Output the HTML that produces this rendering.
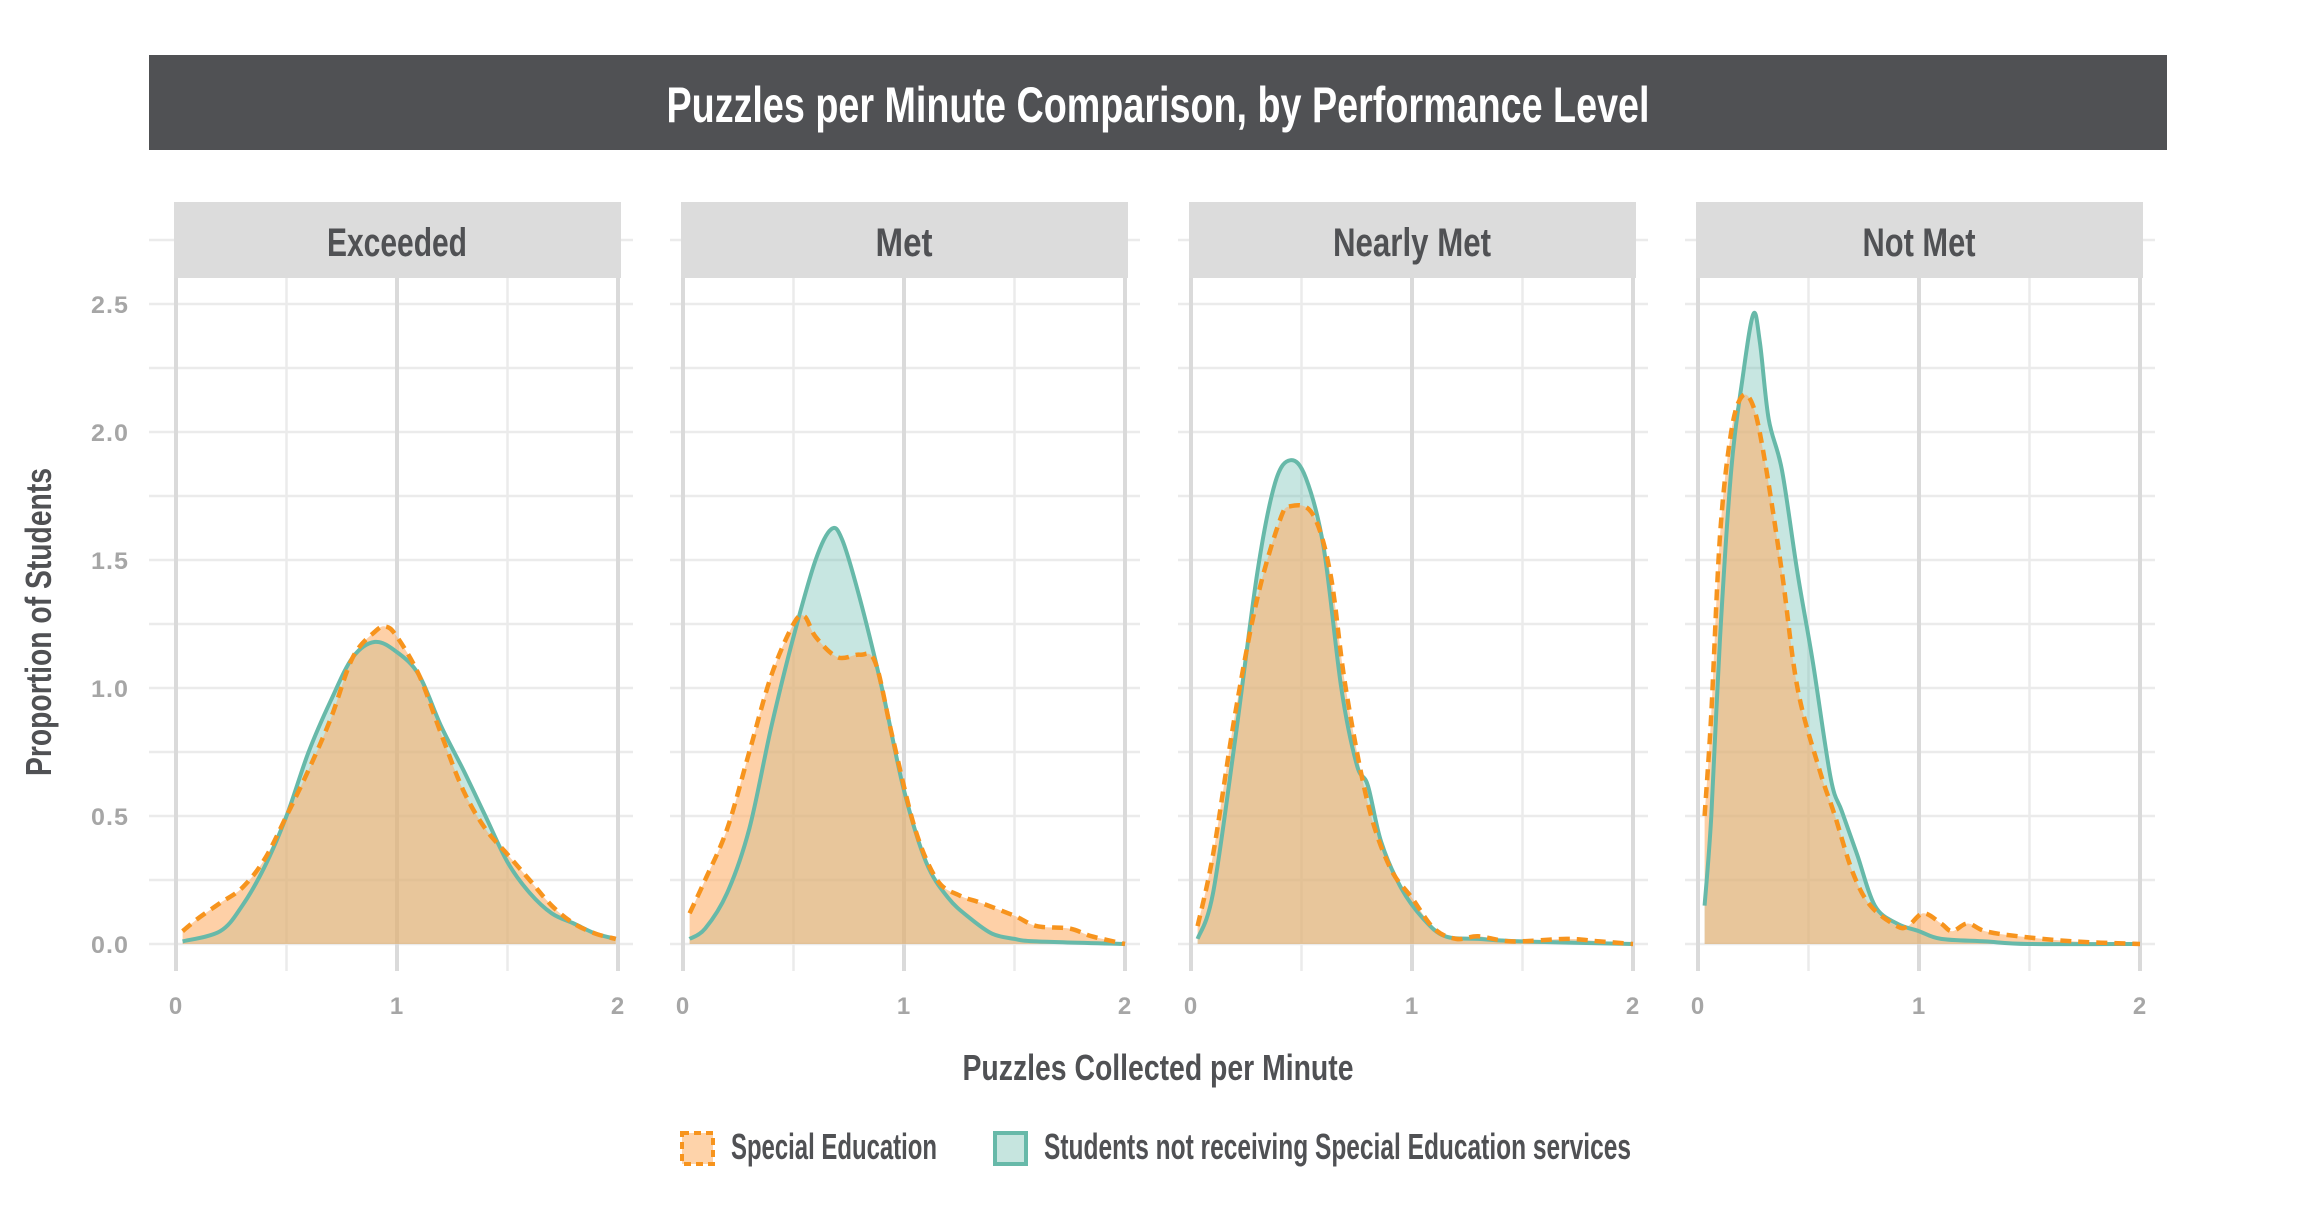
<!DOCTYPE html>
<html><head><meta charset="utf-8"><style>
html,body{margin:0;padding:0;background:#fff;}
svg{display:block;}
text{font-family:"Liberation Sans Narrow","Liberation Sans",sans-serif;font-weight:bold;}
.tk{font-family:"Liberation Sans",sans-serif;font-weight:bold;fill:#a6a6a6;font-size:24px;letter-spacing:1px;}
</style></head><body>
<svg id="s" width="2315" height="1232" viewBox="0 0 2315 1232" xmlns="http://www.w3.org/2000/svg">
<rect x="149" y="55" width="2018" height="95" fill="#505154"/>
<text x="1158" y="122" text-anchor="middle" fill="#fff" font-size="50" textLength="983" lengthAdjust="spacingAndGlyphs">Puzzles per Minute Comparison, by Performance Level</text>
<g id="panels"></g>
<text x="1158" y="1080" text-anchor="middle" fill="#505154" font-size="36" textLength="391" lengthAdjust="spacingAndGlyphs">Puzzles Collected per Minute</text>
<text transform="translate(51,622) rotate(-90)" text-anchor="middle" fill="#505154" font-size="36" textLength="308" lengthAdjust="spacingAndGlyphs">Proportion of Students</text>
<rect x="682" y="1133" width="31" height="31" fill="#fed3aa" stroke="#f7941d" stroke-width="4" stroke-dasharray="7,5"/>
<text x="731" y="1159" fill="#505154" font-size="36" textLength="206" lengthAdjust="spacingAndGlyphs">Special Education</text>
<rect x="995" y="1133" width="31" height="31" fill="#c6e5df" stroke="#67b9a9" stroke-width="4"/>
<text x="1044" y="1159" fill="#505154" font-size="36" textLength="587" lengthAdjust="spacingAndGlyphs">Students not receiving Special Education services</text>
</svg>
<script>
var P=[
{n:"Exceeded",x0:176,lw:140,
t:[[0.03,0.01],[0.2,0.05],[0.3,0.15],[0.4,0.3],[0.5,0.5],[0.6,0.75],[0.7,0.95],[0.8,1.12],[0.9,1.18],[1.0,1.14],[1.1,1.05],[1.2,0.85],[1.3,0.68],[1.4,0.5],[1.5,0.32],[1.6,0.2],[1.7,0.12],[1.8,0.08],[1.9,0.04],[1.99,0.02]],
o:[[0.03,0.05],[0.1,0.1],[0.2,0.16],[0.3,0.22],[0.4,0.33],[0.5,0.5],[0.6,0.68],[0.7,0.88],[0.8,1.12],[0.9,1.22],[0.95,1.24],[1.0,1.2],[1.1,1.05],[1.2,0.82],[1.3,0.6],[1.4,0.45],[1.5,0.35],[1.6,0.25],[1.7,0.15],[1.8,0.08],[1.9,0.04],[1.99,0.02]]},
{n:"Met",x0:683,lw:57,
t:[[0.03,0.02],[0.1,0.06],[0.2,0.2],[0.3,0.45],[0.4,0.85],[0.5,1.2],[0.6,1.5],[0.67,1.62],[0.72,1.58],[0.8,1.35],[0.9,1.0],[1.0,0.6],[1.1,0.32],[1.2,0.18],[1.3,0.1],[1.4,0.04],[1.5,0.02],[1.6,0.01],[2,0.0]],
o:[[0.03,0.12],[0.1,0.25],[0.2,0.45],[0.3,0.75],[0.4,1.05],[0.5,1.25],[0.55,1.28],[0.6,1.2],[0.7,1.12],[0.8,1.13],[0.87,1.1],[0.95,0.8],[1.05,0.45],[1.15,0.25],[1.25,0.19],[1.35,0.16],[1.5,0.11],[1.6,0.07],[1.75,0.06],[1.85,0.03],[2,0.0]]},
{n:"Nearly Met",x0:1191,lw:158,
t:[[0.03,0.02],[0.1,0.2],[0.2,0.8],[0.3,1.45],[0.38,1.8],[0.45,1.89],[0.52,1.82],[0.6,1.55],[0.68,1.0],[0.75,0.7],[0.8,0.62],[0.86,0.4],[0.95,0.22],[1.05,0.1],[1.15,0.03],[1.3,0.02],[1.5,0.01],[2,0.0]],
o:[[0.03,0.07],[0.1,0.35],[0.2,0.9],[0.3,1.35],[0.4,1.65],[0.45,1.71],[0.55,1.68],[0.63,1.45],[0.7,1.0],[0.8,0.55],[0.9,0.3],[1.0,0.18],[1.1,0.06],[1.2,0.02],[1.3,0.03],[1.45,0.01],[1.7,0.02],[1.85,0.01],[2,0.0]]},
{n:"Not Met",x0:1698,lw:113,
t:[[0.03,0.15],[0.06,0.5],[0.1,1.2],[0.15,1.85],[0.2,2.2],[0.25,2.46],[0.28,2.35],[0.32,2.05],[0.38,1.85],[0.45,1.45],[0.52,1.1],[0.6,0.65],[0.65,0.52],[0.72,0.35],[0.8,0.15],[0.9,0.08],[1.0,0.05],[1.1,0.02],[1.3,0.01],[1.5,0.0],[2,0.0]],
o:[[0.03,0.5],[0.06,0.9],[0.1,1.6],[0.15,2.0],[0.2,2.14],[0.25,2.1],[0.3,1.9],[0.38,1.45],[0.45,1.0],[0.55,0.68],[0.62,0.5],[0.7,0.28],[0.78,0.15],[0.9,0.07],[0.95,0.07],[1.02,0.12],[1.1,0.08],[1.15,0.05],[1.22,0.08],[1.3,0.05],[1.45,0.03],[1.7,0.01],[2,0.0]]}
];
var Y0=944,YS=256,W=442;
function path(pts,X){
 var p=pts.map(function(a){return [X(a[0]),Y0-a[1]*YS];});
 var d="M"+p[0][0].toFixed(1)+","+p[0][1].toFixed(1);
 for(var i=0;i<p.length-1;i++){
  var a=p[Math.max(i-1,0)],b=p[i],c=p[i+1],e=p[Math.min(i+2,p.length-1)];
  var c1=[b[0]+(c[0]-a[0])/6,b[1]+(c[1]-a[1])/6],c2=[c[0]-(e[0]-b[0])/6,c[1]-(e[1]-b[1])/6];
  d+="C"+c1[0].toFixed(1)+","+c1[1].toFixed(1)+" "+c2[0].toFixed(1)+","+c2[1].toFixed(1)+" "+c[0].toFixed(1)+","+c[1].toFixed(1);
 }
 return {d:d,f:p[0][0],l:p[p.length-1][0]};
}
var h="";
P.forEach(function(q,k){
 var X=function(v){return q.x0+W*v/2;};
 var gl=k==0?149:q.x0-13, gr=q.x0+W+15;
 for(var j=0;j<=11;j++){var y=Y0-j*0.25*YS;h+='<line x1="'+gl+'" x2="'+gr+'" y1="'+y+'" y2="'+y+'" stroke="#ebebeb" stroke-width="2.5"/>';}
 [0.5,1.5].forEach(function(v){h+='<line x1="'+X(v)+'" x2="'+X(v)+'" y1="278" y2="971" stroke="#ebebeb" stroke-width="2.5"/>';});
 [0,1,2].forEach(function(v){h+='<line x1="'+X(v)+'" x2="'+X(v)+'" y1="278" y2="971" stroke="#dadada" stroke-width="4"/>';
  h+='<text class="tk" x="'+X(v)+'" y="1014" text-anchor="middle">'+v+'</text>';});
 h+='<rect x="'+(q.x0-2)+'" y="202" width="'+(W+5)+'" height="76" fill="#dcdcdc"/>';
 h+='<text x="'+(q.x0+W/2)+'" y="256" text-anchor="middle" fill="#505154" font-size="40" textLength="'+q.lw+'" lengthAdjust="spacingAndGlyphs">'+q.n+'</text>';
 var t=path(q.t,X),o=path(q.o,X);
 h+='<path d="'+t.d+'L'+t.l+','+Y0+'L'+t.f+','+Y0+'Z" fill="rgba(95,184,168,0.35)"/>';
 h+='<path d="'+o.d+'L'+o.l+','+Y0+'L'+o.f+','+Y0+'Z" fill="rgba(253,176,108,0.6)"/>';
 h+='<path d="'+t.d+'" fill="none" stroke="#67b9a9" stroke-width="4"/>';
 h+='<path d="'+o.d+'" fill="none" stroke="#f7941d" stroke-width="4.5" stroke-dasharray="11,7"/>';
});
var ylab=["0.0","0.5","1.0","1.5","2.0","2.5"];
ylab.forEach(function(s,i){h+='<text class="tk" x="129" y="'+(Y0-i*0.5*YS+9)+'" text-anchor="end" textLength="38" lengthAdjust="spacingAndGlyphs">'+s+'</text>';});
document.getElementById("panels").innerHTML=h;
</script>
</body></html>
